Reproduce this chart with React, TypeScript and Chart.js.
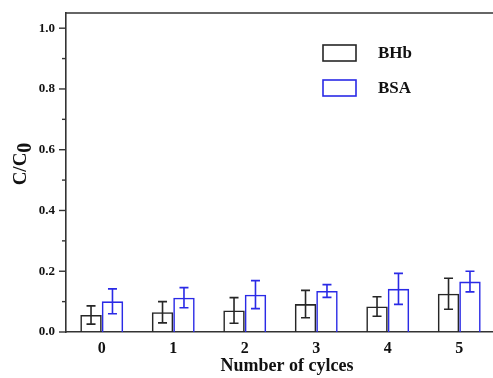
import React, { useEffect, useRef } from "react";
import { Chart, registerables } from "chart.js";

Chart.register(...registerables);

const cycles = ["0", "1", "2", "3", "4", "5"];
const bhbValues = [0.056, 0.065, 0.071, 0.092, 0.084, 0.126];
const bhbErrors = [0.030, 0.035, 0.042, 0.045, 0.032, 0.051];
const bsaValues = [0.101, 0.113, 0.123, 0.135, 0.142, 0.166];
const bsaErrors = [0.041, 0.033, 0.046, 0.021, 0.051, 0.034];
const seriesNames = ["BHb", "BSA"];
const seriesColors = ["#262626", "#2a2ae6"];
const yMin = 0;
const yMax = 1.05;
const xTitle = "Number of cylces";
const yTitleMain = "C/C";
const yTitleSub = "0";

const FONT = "'Liberation Serif', 'Times New Roman', serif";
const AXIS = "#333333";

const errorsBySeries = [bhbErrors, bsaErrors];

const decorPlugin = {
  id: "decor",
  afterDatasetsDraw(chart: any) {
    const ctx = chart.ctx;
    const ys = chart.scales.y;
    ctx.save();
    chart.data.datasets.forEach((ds: any, d: number) => {
      const meta = chart.getDatasetMeta(d);
      const errs = errorsBySeries[d];
      ctx.strokeStyle = ds.borderColor;
      ctx.lineWidth = 1.6;
      meta.data.forEach((bar: any, i: number) => {
        const v = ds.data[i];
        const e = errs[i];
        const x = bar.x;
        const yt = ys.getPixelForValue(v + e);
        const yb = ys.getPixelForValue(v - e);
        ctx.beginPath();
        ctx.moveTo(x, yt);
        ctx.lineTo(x, yb);
        ctx.moveTo(x - 4.5, yt);
        ctx.lineTo(x + 4.5, yt);
        ctx.moveTo(x - 4.5, yb);
        ctx.lineTo(x + 4.5, yb);
        ctx.stroke();
      });
    });
    ctx.restore();
  },
  afterDraw(chart: any) {
    const ctx = chart.ctx;
    const ys = chart.scales.y;
    const area = chart.chartArea;
    ctx.save();
    ctx.strokeStyle = AXIS;
    ctx.lineWidth = 1.6;
    ctx.beginPath();
    ctx.moveTo(area.left, area.top);
    ctx.lineTo(area.right, area.top);
    ctx.stroke();
    ctx.lineWidth = 1.4;
    for (let k = 0; k <= 10; k++) {
      const v = k / 10;
      const y = ys.getPixelForValue(v);
      const len = k % 2 === 0 ? 7 : 4;
      ctx.beginPath();
      ctx.moveTo(area.left - len, y);
      ctx.lineTo(area.left, y);
      ctx.stroke();
    }
    ctx.font = `bold 17px ${FONT}`;
    ctx.textBaseline = "middle";
    ctx.textAlign = "left";
    chart.data.datasets.forEach((ds: any, d: number) => {
      const bx = area.left + 257;
      const by = 45 + d * 35;
      ctx.strokeStyle = ds.borderColor;
      ctx.lineWidth = 1.6;
      ctx.strokeRect(bx, by, 33, 16);
      ctx.fillStyle = "#111";
      ctx.fillText(ds.label, bx + 55, by + 8.5);
    });
    ctx.fillStyle = "#111";
    ctx.font = `bold 18px ${FONT}`;
    ctx.textAlign = "center";
    ctx.textBaseline = "middle";
    ctx.fillText(xTitle, 287, 366);
    ctx.translate(22, 164);
    ctx.rotate(-Math.PI / 2);
    ctx.font = `bold 19px ${FONT}`;
    const wMain = ctx.measureText(yTitleMain).width;
    ctx.font = `bold 20px ${FONT}`;
    const wSub = ctx.measureText(yTitleSub).width;
    const total = wMain + wSub;
    ctx.textAlign = "left";
    ctx.textBaseline = "middle";
    ctx.font = `bold 19px ${FONT}`;
    ctx.fillText(yTitleMain, -total / 2, -1);
    ctx.font = `bold 20px ${FONT}`;
    ctx.fillText(yTitleSub, -total / 2 + wMain, 4);
    ctx.restore();
  },
};

export default function App() {
  const ref = useRef<HTMLCanvasElement>(null);
  useEffect(() => {
    if (!ref.current) return;
    const chart = new Chart(ref.current, {
      type: "bar",
      data: {
        labels: cycles,
        datasets: [
          {
            label: seriesNames[0],
            data: bhbValues,
            backgroundColor: "rgba(255,255,255,0)",
            borderColor: seriesColors[0],
            borderWidth: 1.6,
          },
          {
            label: seriesNames[1],
            data: bsaValues,
            backgroundColor: "rgba(255,255,255,0)",
            borderColor: seriesColors[1],
            borderWidth: 1.6,
          },
        ],
      },
      options: {
        animation: false,
        responsive: false,
        devicePixelRatio: 1,
        layout: { padding: { left: 0, top: 13, right: 25, bottom: 0 } },
        plugins: { legend: { display: false }, tooltip: { enabled: false } },
        datasets: { bar: { categoryPercentage: 0.6, barPercentage: 1.0 } },
        scales: {
          x: {
            grid: { display: false, drawTicks: false },
            border: { display: true, color: AXIS, width: 1.6 },
            ticks: {
              color: "#111",
              font: { family: FONT, size: 16, weight: "bold" },
              padding: 7,
              maxRotation: 0,
              autoSkip: false,
            },
            afterFit: (s: any) => {
              s.height = 46;
              s.paddingLeft = 0;
              s.paddingRight = 0;
            },
          },
          y: {
            min: yMin,
            max: yMax,
            grid: { display: false, drawTicks: false },
            border: { display: true, color: AXIS, width: 1.6 },
            ticks: {
              stepSize: 0.2,
              includeBounds: false,
              color: "#111",
              font: { family: FONT, size: 13, weight: "bold" },
              padding: 11,
              callback: (v: any) => Number(v).toFixed(1),
            },
            afterFit: (s: any) => {
              s.width = 66;
              s.paddingTop = 0;
              s.paddingBottom = 0;
            },
          },
        },
      } as any,
      plugins: [decorPlugin],
    });
    return () => chart.destroy();
  }, []);
  return (
    <div
      style={{
        position: "fixed",
        left: 0,
        top: 0,
        width: 493,
        height: 378,
        overflow: "hidden",
        background: "#fff",
      }}
    >
      <canvas ref={ref} width={520} height={378} style={{ display: "block" }} />
    </div>
  );
}
